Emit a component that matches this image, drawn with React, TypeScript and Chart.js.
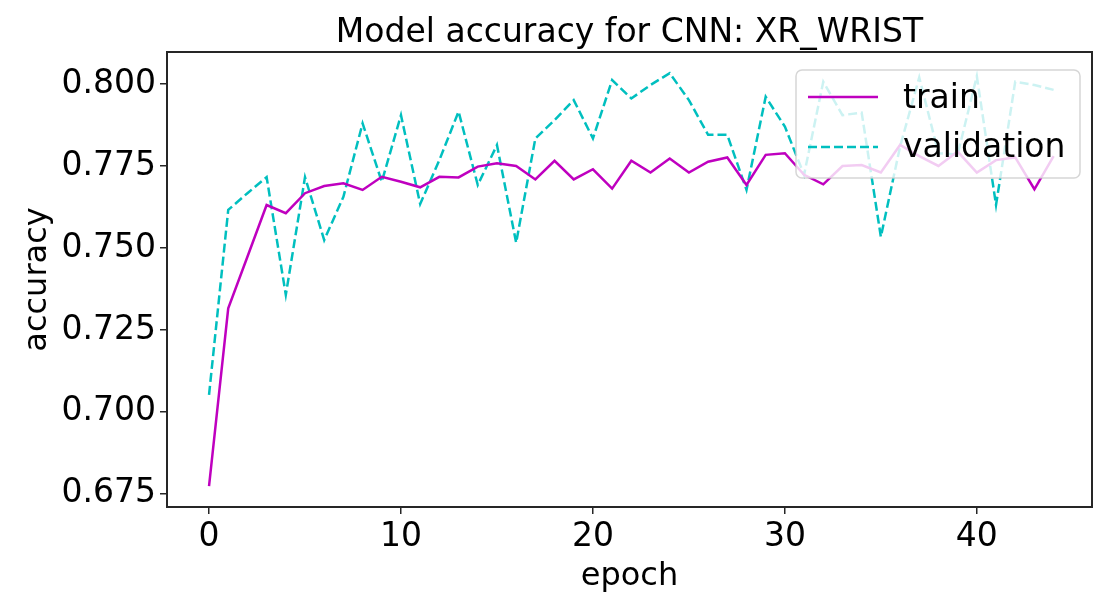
import { useEffect, useRef } from "react"
import { Chart, registerables } from "chart.js"

Chart.register(...registerables)

const epochs = Array.from({ length: 45 }, (_, i) => i)
const trainAcc = [
  0.6774, 0.7316, 0.7473, 0.7631, 0.7606, 0.7667, 0.7689, 0.7697, 0.7677, 0.7717,
  0.7702, 0.7685, 0.7717, 0.7715, 0.7748, 0.7758, 0.775, 0.7709, 0.7766, 0.7709,
  0.774, 0.7681, 0.7766, 0.773, 0.7773, 0.773, 0.7763, 0.7776, 0.7692, 0.7784,
  0.7789, 0.7723, 0.7694, 0.775, 0.7753, 0.773, 0.7814, 0.778, 0.775, 0.7794,
  0.773, 0.7768, 0.7776, 0.7679, 0.778,
]
const valAcc = [
  0.7052, 0.7616, 0.7667, 0.7716, 0.7357, 0.7716, 0.7524, 0.7656, 0.788, 0.7702,
  0.7905, 0.7634, 0.7768, 0.7916, 0.7692, 0.7814, 0.7516, 0.7834, 0.789, 0.7951,
  0.7834, 0.8012, 0.7956, 0.7997, 0.8033, 0.7951, 0.7845, 0.7845, 0.7677, 0.7961,
  0.787, 0.7723, 0.8007, 0.7905, 0.7913, 0.7534, 0.7809, 0.802, 0.7789, 0.7785,
  0.8024, 0.7631, 0.8007, 0.7997, 0.7982,
]
const xTicks = [0, 10, 20, 30, 40]
const yTicks = [0.675, 0.7, 0.725, 0.75, 0.775, 0.8]

const FONT = "'DejaVu Sans', sans-serif"
const INK = "#262626"

const overlay = {
  id: "overlay",
  afterDraw(chart: any) {
    const { ctx, chartArea: a } = chart
    ctx.save()
    // frame
    ctx.strokeStyle = INK
    ctx.lineWidth = 2
    ctx.strokeRect(a.left, a.top, a.right - a.left, a.bottom - a.top)
    // title
    ctx.fillStyle = "#000"
    ctx.font = `33px ${FONT}`
    ctx.textAlign = "center"
    ctx.textBaseline = "alphabetic"
    ctx.fillText("Model accuracy for CNN: XR_WRIST", (a.left + a.right) / 2, 42)
    // legend
    const x = 796, y = 70, w = 284, h = 108, r = 6
    ctx.beginPath()
    ctx.roundRect(x, y, w, h, r)
    ctx.fillStyle = "rgba(255,255,255,0.8)"
    ctx.fill()
    ctx.strokeStyle = "rgba(204,204,204,0.8)"
    ctx.lineWidth = 1.5
    ctx.stroke()
    ctx.lineWidth = 2.5
    ctx.strokeStyle = "#bf00bf"
    ctx.beginPath(); ctx.moveTo(808, 97); ctx.lineTo(878, 97); ctx.stroke()
    ctx.strokeStyle = "#00bfbf"
    ctx.setLineDash([9, 4])
    ctx.beginPath(); ctx.moveTo(808, 147); ctx.lineTo(878, 147); ctx.stroke()
    ctx.setLineDash([])
    ctx.fillStyle = "#000"
    ctx.font = `33px ${FONT}`
    ctx.textAlign = "left"
    ctx.textBaseline = "middle"
    ctx.fillText("train", 903, 99)
    ctx.fillText("validation", 903, 148)
    ctx.restore()
  },
}

export default function App() {
  const chartRef = useRef<HTMLCanvasElement>(null)
  const chartInstance = useRef<Chart | null>(null)

  useEffect(() => {
    document.body.style.margin = "0"
    if (!chartRef.current) return
    if (chartInstance.current) chartInstance.current.destroy()
    const ctx = chartRef.current.getContext("2d")
    if (!ctx) return

    chartInstance.current = new Chart(ctx, {
      type: "line",
      data: {
        datasets: [
          {
            label: "train",
            data: epochs.map((e, i) => ({ x: e, y: trainAcc[i] })),
            borderColor: "#bf00bf",
            borderWidth: 2.5,
            pointRadius: 0,
            tension: 0,
          },
          {
            label: "validation",
            data: epochs.map((e, i) => ({ x: e, y: valAcc[i] })),
            borderColor: "#00bfbf",
            borderWidth: 2.5,
            borderDash: [9, 4],
            pointRadius: 0,
            tension: 0,
          },
        ],
      },
      options: {
        responsive: false,
        animation: false,
        layout: { padding: { top: 52, right: 19, left: 18, bottom: 14 } },
        plugins: { legend: { display: false }, tooltip: { enabled: false } },
        scales: {
          x: {
            type: "linear",
            min: -2.19,
            max: 46.0,
            afterBuildTicks: (s: any) => { s.ticks = xTicks.map((v) => ({ value: v })) },
            afterFit: (s: any) => { s.height = 89 },
            grid: { drawOnChartArea: false, drawTicks: true, tickLength: 7, color: INK, lineWidth: 1.5 },
            border: { display: false },
            ticks: { color: "#000", font: { family: FONT, size: 33 }, padding: 4 },
            title: { display: true, text: "epoch", color: "#000", font: { family: FONT, size: 32 }, padding: { top: 0, bottom: 0 } },
          },
          y: {
            min: 0.671,
            max: 0.80976,
            afterBuildTicks: (s: any) => { s.ticks = yTicks.map((v) => ({ value: v })) },
            afterFit: (s: any) => { s.width = 149 },
            grid: { drawOnChartArea: false, drawTicks: true, tickLength: 7, color: INK, lineWidth: 1.5 },
            border: { display: false },
            ticks: { color: "#000", font: { family: FONT, size: 33 }, padding: 4, callback: (v: any) => Number(v).toFixed(3) },
            title: { display: true, text: "accuracy", color: "#000", font: { family: FONT, size: 32 }, padding: { top: 0, bottom: 0 } },
          },
        },
      },
      plugins: [overlay],
    })

    return () => {
      if (chartInstance.current) chartInstance.current.destroy()
    }
  }, [])

  return (
    <div style={{ width: 1111, height: 610 }}>
      <canvas ref={chartRef} width={1111} height={610}></canvas>
    </div>
  )
}
